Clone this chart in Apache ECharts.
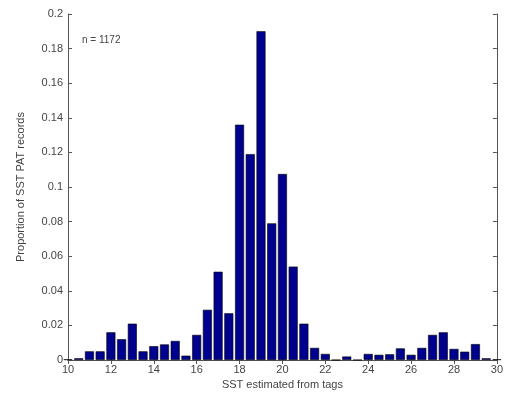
<!DOCTYPE html>
<html>
<head>
<meta charset="utf-8">
<script src="https://cdn.jsdelivr.net/npm/echarts@6/dist/echarts.min.js"></script>
<style>
  html, body { margin: 0; padding: 0; background: #fff; }
  #chart { width: 506px; height: 398px; }
</style>
</head>
<body>
<div id="chart"></div>
<script>
// bin centres (deg C) and proportion of records per bin
const binCenters = [10, 10.5, 11, 11.5, 12, 12.5, 13, 13.5, 14, 14.5, 15, 15.5, 16, 16.5, 17, 17.5,
  18, 18.5, 19, 19.5, 20, 20.5, 21, 21.5, 22, 22.5, 23, 23.5, 24, 24.5, 25, 25.5, 26, 26.5,
  27, 27.5, 28, 28.5, 29, 29.5, 30]
const proportions = [0.0004, 0.001, 0.005, 0.005, 0.016, 0.012, 0.021, 0.005, 0.008, 0.009, 0.011, 0.0025,
  0.0145, 0.029, 0.051, 0.027, 0.136, 0.119, 0.19, 0.079, 0.1075, 0.054, 0.021, 0.007, 0.0035, 0,
  0.002, 0, 0.0035, 0.003, 0.0033, 0.0067, 0.003, 0.007, 0.0145, 0.016, 0.0064, 0.0048, 0.0092,
  0.001, 0.0004]
const xTicks = [10, 12, 14, 16, 18, 20, 22, 24, 26, 28, 30]
const sampleNote = "n = 1172"

const chart = echarts.init(document.getElementById("chart"))

const font = "Liberation Sans, Arial, sans-serif"
const axisColor = "#555"
const textColor = "#444"

const tickInside = { show: true, inside: true, length: 4, lineStyle: { color: axisColor } }

const option = {
  animation: false,
  backgroundColor: "#fff",
  grid: { left: 68, right: 5, top: 14, bottom: 38, containLabel: false },
  graphic: [
    {
      type: "text",
      left: 82,
      top: 35,
      style: { text: sampleNote, font: "10px " + font, fill: textColor },
    },
  ],
  xAxis: [
    {
      type: "value",
      min: 10,
      max: 30,
      interval: 2,
      name: "SST estimated from tags",
      nameLocation: "middle",
      nameGap: 18,
      nameTextStyle: { color: textColor, fontFamily: font, fontSize: 11 },
      axisLine: { lineStyle: { color: axisColor } },
      axisTick: tickInside,
      axisLabel: { color: textColor, fontFamily: font, fontSize: 11, margin: 4 },
      splitLine: { show: false },
    },
    {
      type: "value",
      position: "top",
      min: 10,
      max: 30,
      interval: 2,
      axisLine: { show: true, lineStyle: { color: axisColor } },
      axisTick: tickInside,
      axisLabel: { show: false },
      splitLine: { show: false },
    },
  ],
  yAxis: [
    {
      type: "value",
      min: 0,
      max: 0.2,
      interval: 0.02,
      name: "Proportion of SST PAT records",
      nameLocation: "middle",
      nameGap: 42,
      nameTextStyle: { color: textColor, fontFamily: font, fontSize: 11 },
      axisLine: { show: true, lineStyle: { color: axisColor } },
      axisTick: tickInside,
      axisLabel: {
        color: textColor,
        fontFamily: font,
        fontSize: 11,
        margin: 5,
        formatter: (v) => String(Math.round(v * 100) / 100),
      },
      splitLine: { show: false },
    },
    {
      type: "value",
      position: "right",
      min: 0,
      max: 0.2,
      interval: 0.02,
      axisLine: { show: true, lineStyle: { color: axisColor } },
      axisTick: tickInside,
      axisLabel: { show: false },
      splitLine: { show: false },
    },
  ],
  series: [
    {
      type: "bar",
      data: binCenters.map((c, i) => [c, proportions[i]]),
      barWidth: 9,
      itemStyle: { color: "#00008f", borderColor: "#000", borderWidth: 0.6 },
    },
  ],
}

chart.setOption(option)
</script>
</body>
</html>
